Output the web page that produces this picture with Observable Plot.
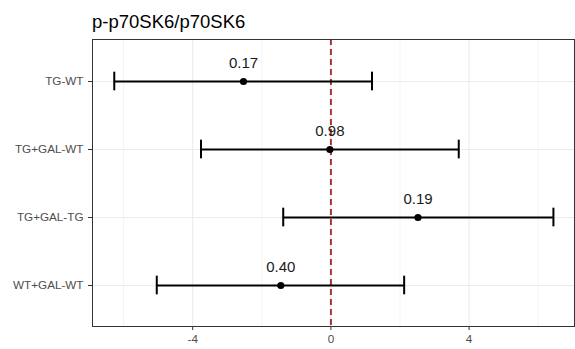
<!DOCTYPE html>
<html><head><meta charset="utf-8">
<script src="https://cdn.jsdelivr.net/npm/d3@7"></script>
<script src="https://cdn.jsdelivr.net/npm/@observablehq/plot@0.6"></script>
<style>
body{margin:0;background:#fff;font-family:"Liberation Sans",Arial,sans-serif;}
#title{height:36px;position:relative;}
#title span{position:absolute;left:92px;top:12.3px;font-size:18.5px;line-height:20.66px;color:#000;white-space:nowrap;}
#chart svg{display:block;}
</style></head><body>
<div id="title"><span>p-p70SK6/p70SK6</span></div>
<div id="chart"></div>
<script>
const comparisons = ["TG-WT", "TG+GAL-WT", "TG+GAL-TG", "WT+GAL-WT"];
const estimates = [-2.53, -0.03, 2.52, -1.45];
const lower = [-6.27, -3.76, -1.38, -5.04];
const upper = [1.19, 3.70, 6.44, 2.12];
const pLabels = ["0.17", "0.98", "0.19", "0.40"];
const majorTicks = [-4, 0, 4];
const minorTicks = [-6, -2, 2, 6];
const refLine = [0];

const rows = comparisons.map((c, i) => ({c, est: estimates[i], lo: lower[i], hi: upper[i], p: pLabels[i]}));

const H = 313, MT = 3, MB = 23;
const step = (H - MT - MB) / 4.2;
const capInset = step / 2 - 9.5;

const chart = Plot.plot({
  width: 575,
  height: H,
  marginTop: MT,
  marginBottom: MB,
  marginLeft: 92,
  marginRight: 1,
  style: {fontFamily: "'Liberation Sans', Arial, sans-serif", fontSize: "11.7px", background: "#fff"},
  x: {domain: [-6.9, 7.05], label: null},
  y: {type: "band", domain: comparisons, paddingInner: 0, paddingOuter: 0.1, label: null},
  marks: [
    Plot.ruleX(minorTicks, {stroke: "#ebebeb", strokeWidth: 0.6}),
    Plot.ruleX(majorTicks, {stroke: "#ebebeb", strokeWidth: 1.1}),
    Plot.ruleY(comparisons, {y: d => d, stroke: "#ebebeb", strokeWidth: 1.1}),
    Plot.ruleX(refLine, {stroke: "#a8323a", strokeWidth: 2, strokeDasharray: "6,4"}),
    Plot.ruleY(rows, {y: "c", x1: "lo", x2: "hi", stroke: "#000", strokeWidth: 2}),
    Plot.tickX(rows, {x: "lo", y: "c", stroke: "#000", strokeWidth: 2, insetTop: capInset, insetBottom: capInset}),
    Plot.tickX(rows, {x: "hi", y: "c", stroke: "#000", strokeWidth: 2, insetTop: capInset, insetBottom: capInset}),
    Plot.dot(rows, {x: "est", y: "c", r: 3.6, fill: "#000", stroke: null}),
    Plot.text(rows, {x: "est", y: "c", text: "p", dy: -18, fontSize: 15, fill: "#1a1a1a"}),
    Plot.frame({stroke: "#333", strokeWidth: 1}),
    Plot.axisX({ticks: majorTicks, tickFormat: d => String(d), tickSize: 4, tickPadding: 4, stroke: "#333", color: "#4d4d4d", label: null}),
    Plot.axisY({tickSize: 4, tickPadding: 5, stroke: "#333", color: "#4d4d4d", label: null})
  ]
});
document.getElementById("chart").appendChild(chart);
</script>
</body></html>
